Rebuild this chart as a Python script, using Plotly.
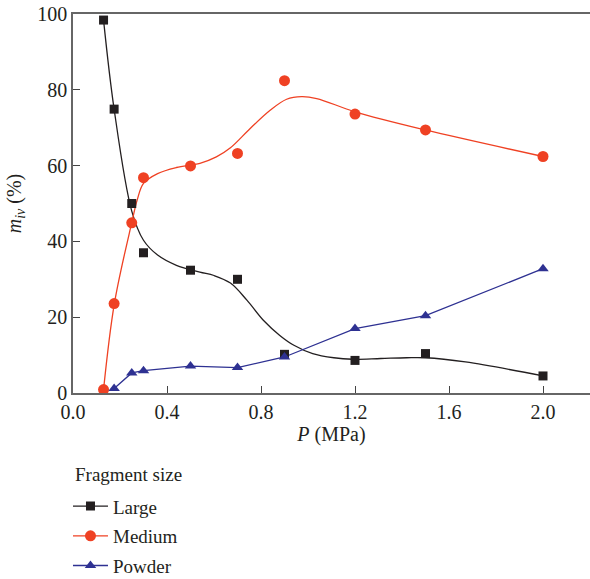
import plotly.graph_objects as go

# ---- data ----
pressure = [0.13, 0.175, 0.25, 0.30, 0.50, 0.70, 0.90, 1.20, 1.50, 2.00]
pressure_powder = [0.175, 0.25, 0.30, 0.50, 0.70, 0.90, 1.20, 1.50, 2.00]
large = [98.4, 74.9, 50.0, 37.0, 32.4, 30.0, 10.2, 8.6, 10.4, 4.5]
medium = [0.9, 23.6, 44.9, 56.8, 59.9, 63.2, 82.4, 73.6, 69.4, 62.4]
powder = [1.2, 5.3, 5.9, 7.1, 6.7, 9.5, 17.0, 20.4, 32.8]

# smooth fitted curves as drawn in the figure
large_fit_x = [0.13, 0.175, 0.25, 0.30, 0.36, 0.44, 0.54, 0.60, 0.67, 0.74, 0.81,
               0.88, 0.94, 1.02, 1.11, 1.19, 1.31, 1.42, 1.50, 1.67, 2.00]
large_fit_y = [98.4, 74.9, 48.0, 40.3, 36.4, 33.7, 31.9, 31.0, 29.0, 24.5, 19.2,
               15.2, 12.6, 10.4, 9.3, 8.9, 9.1, 9.3, 9.3, 8.2, 4.5]
medium_fit_x = [0.13, 0.176, 0.251, 0.273, 0.30, 0.36, 0.44, 0.54, 0.61, 0.67,
                0.754, 0.839, 0.909, 0.973, 1.037, 1.20, 1.50, 2.00]
medium_fit_y = [0.9, 23.6, 45.2, 50.9, 55.3, 57.9, 59.5, 60.6, 62.3, 64.7,
                69.8, 74.6, 77.5, 78.2, 77.7, 74.2, 69.4, 62.4]

x_ticks = [0.0, 0.4, 0.8, 1.2, 1.6, 2.0]
y_ticks = [0, 20, 40, 60, 80, 100]

BLACK = "#231f20"
RED = "#ef4123"
BLUE = "#2e3192"
FONT = "Liberation Serif"

fig = go.Figure()

# fitted curves
fig.add_trace(go.Scatter(x=large_fit_x, y=large_fit_y, mode="lines",
                         line=dict(color=BLACK, width=1.3, shape="spline", smoothing=1.0),
                         showlegend=False, hoverinfo="skip", cliponaxis=False))
fig.add_trace(go.Scatter(x=medium_fit_x, y=medium_fit_y, mode="lines",
                         line=dict(color=RED, width=1.3, shape="spline", smoothing=1.0),
                         showlegend=False, hoverinfo="skip", cliponaxis=False))
fig.add_trace(go.Scatter(x=pressure_powder, y=powder, mode="lines",
                         line=dict(color=BLUE, width=1.3),
                         showlegend=False, hoverinfo="skip", cliponaxis=False))

# markers
fig.add_trace(go.Scatter(x=pressure, y=large, mode="markers",
                         marker=dict(symbol="square", size=9, color=BLACK),
                         showlegend=False, cliponaxis=False))
fig.add_trace(go.Scatter(x=pressure, y=medium, mode="markers",
                         marker=dict(symbol="circle", size=11, color=RED),
                         showlegend=False, cliponaxis=False))
fig.add_trace(go.Scatter(x=pressure_powder, y=powder, mode="markers",
                         marker=dict(symbol="triangle-up", size=10, color=BLUE),
                         showlegend=False, cliponaxis=False))

# legend entries
for name, col, sym, sz, grp in [("Large", BLACK, "square", 9, "a"),
                                ("Medium", RED, "circle", 11, "b"),
                                ("Powder", BLUE, "triangle-up", 10, "c")]:
    fig.add_trace(go.Scatter(x=[None], y=[None], mode="lines+markers", name=name,
                             legendgroup=grp,
                             line=dict(color=col, width=1.3),
                             marker=dict(symbol=sym, size=sz, color=col)))

axis_common = dict(
    showline=True, linecolor="#666666", linewidth=1.5,
    ticks="inside", ticklen=7, tickwidth=1.2, tickcolor="#444444",
    showgrid=False, zeroline=False,
    tickfont=dict(family=FONT, size=20, color=BLACK),
)

fig.update_layout(
    width=590, height=579,
    margin=dict(l=73, r=0, t=14, b=186),
    plot_bgcolor="white", paper_bgcolor="white",
    font=dict(family=FONT, size=19, color=BLACK),
    xaxis=dict(range=[0, 2.2], tickvals=x_ticks, ticktext=[f"{v:.1f}" for v in x_ticks],
               mirror=True,
               title=dict(text="<i>P</i> (MPa)", font=dict(family=FONT, size=20, color=BLACK),
                          standoff=5),
               **axis_common),
    yaxis=dict(range=[0, 100], tickvals=y_ticks,
               title=dict(text="<i>m</i><sub><i>iv</i></sub> (%)",
                          font=dict(family=FONT, size=20, color=BLACK), standoff=10),
               **axis_common),
    legend=dict(x=-0.0097, xanchor="left", xref="paper",
                y=0.1585, yanchor="top", yref="container",
                font=dict(family=FONT, size=19, color=BLACK),
                tracegroupgap=2, itemwidth=35, bgcolor="rgba(0,0,0,0)"),
    showlegend=True,
    annotations=[dict(text="Fragment size", xref="paper", yref="paper",
                      x=0, xanchor="left", y=-0.216, yanchor="middle",
                      showarrow=False, font=dict(family=FONT, size=19, color=BLACK))],
)

fig.write_html("out.html")
